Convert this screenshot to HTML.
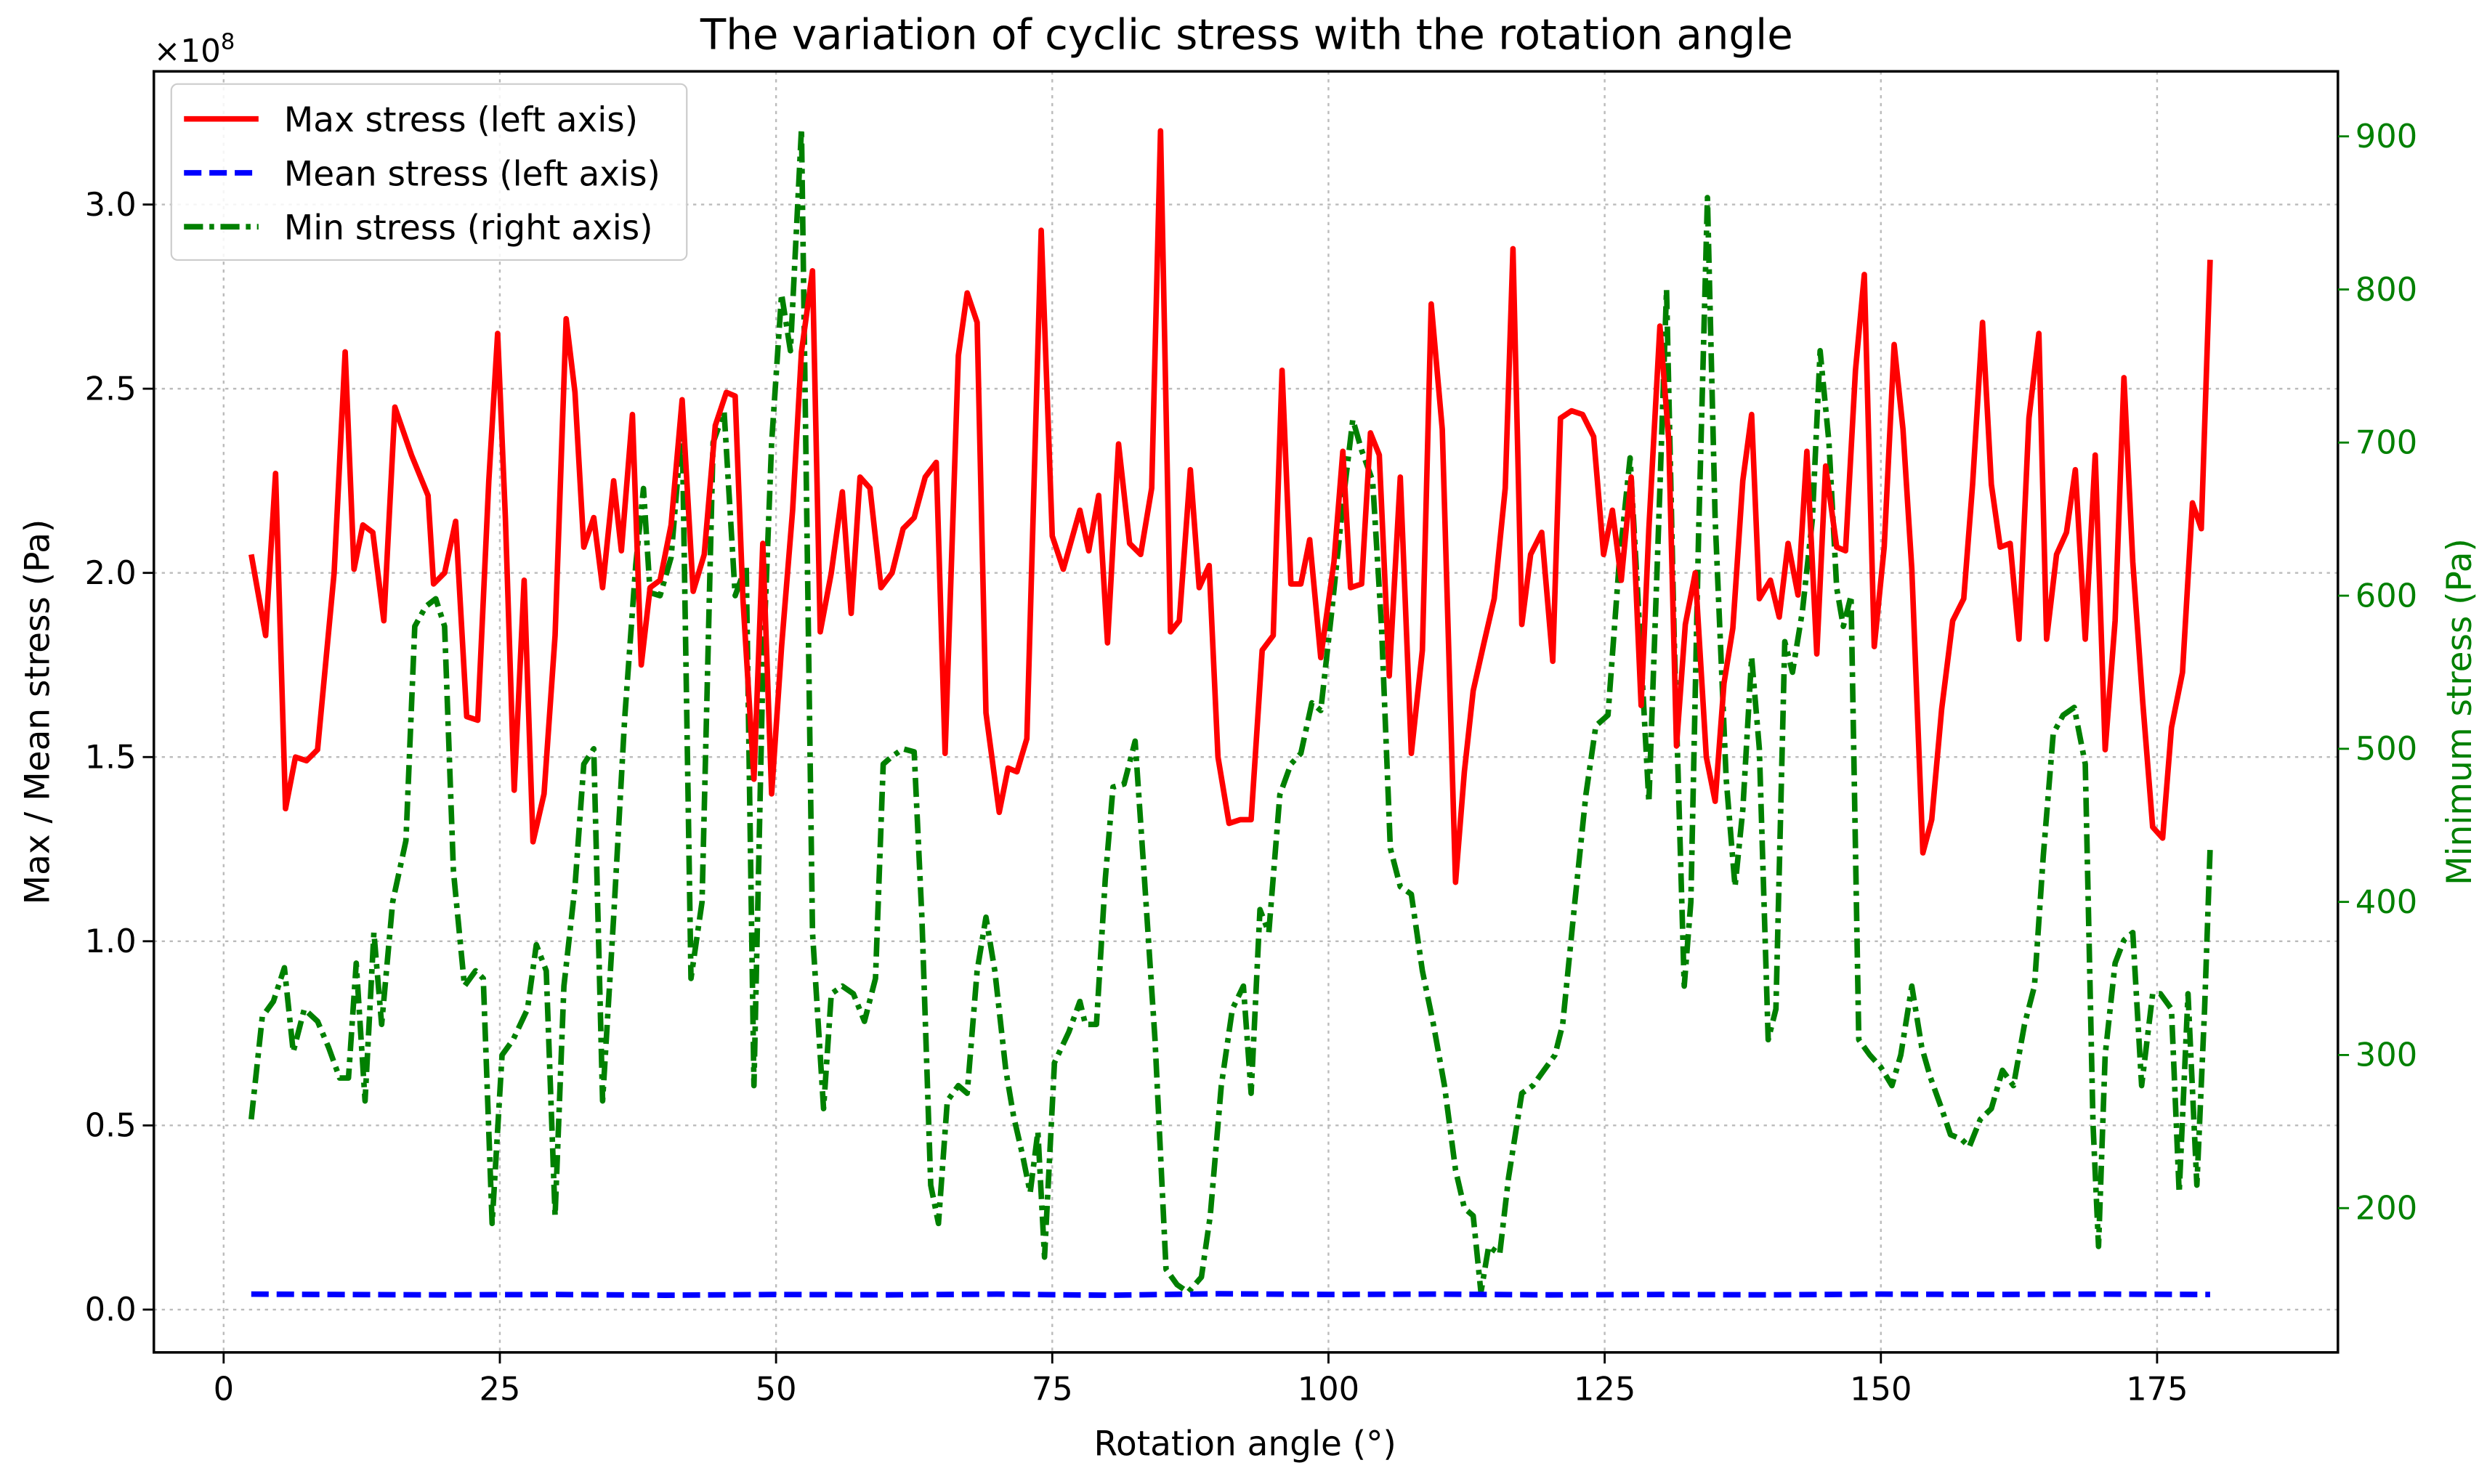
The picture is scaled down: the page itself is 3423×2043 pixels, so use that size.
<!DOCTYPE html>
<html><head><meta charset="utf-8">
<style>
html,body{margin:0;padding:0;background:#fff;}
svg{display:block;font-family:"DejaVu Sans","Liberation Sans",sans-serif;}
</style></head>
<body>
<svg id="chart" width="3423" height="2043" viewBox="0 0 1568 936" preserveAspectRatio="none" xmlns="http://www.w3.org/2000/svg">
<rect x="0" y="0" width="1568" height="936" fill="#fff"/>
<g id="grid"></g>
<g id="series"></g>
<rect x="97" y="45" width="1377" height="808" fill="none" stroke="#000" stroke-width="1.6"/>
<g id="axes"></g>
<text x="786" y="31" font-size="26.5" text-anchor="middle">The variation of cyclic stress with the rotation angle</text>
<text x="97" y="39" font-size="20">×10<tspan font-size="14" dy="-8">8</tspan></text>
<text x="785" y="918" font-size="21.5" text-anchor="middle">Rotation angle (°)</text>
<text x="31" y="449" font-size="21.5" text-anchor="middle" transform="rotate(-90 31 449)">Max / Mean stress (Pa)</text>
<text x="1558" y="449" font-size="21.5" fill="green" text-anchor="middle" transform="rotate(-90 1558 449)">Minimum stress (Pa)</text>
<g>
<rect x="108" y="53" width="325" height="111" rx="4" fill="#fff" fill-opacity="0.85" stroke="#ccc" stroke-width="1"/>
<line x1="116" y1="75" x2="163" y2="75" stroke="red" stroke-width="3.5"/>
<text x="179" y="83" font-size="21.5">Max stress (left axis)</text>
<line x1="116" y1="109" x2="163" y2="109" stroke="blue" stroke-width="3.5" stroke-dasharray="11,5"/>
<text x="179" y="117" font-size="21.5">Mean stress (left axis)</text>
<line x1="116" y1="143" x2="163" y2="143" stroke="green" stroke-width="3.5" stroke-dasharray="12,4,3,4"/>
<text x="179" y="151" font-size="21.5">Min stress (right axis)</text>
</g>
</svg>
<script>
const xTicks=[0,25,50,75,100,125,150,175];
const leftTicks=[0,0.5,1.0,1.5,2.0,2.5,3.0];
const leftTickLabels=["0.0","0.5","1.0","1.5","2.0","2.5","3.0"];
const rightTicks=[200,300,400,500,600,700,800,900];
const maxAngles=[2.5,3.8,4.7,5.6,6.5,7.5,8.5,10,11,11.8,12.6,13.5,14.5,15.5,17,18.5,19,20,21,22,23,24,24.8,25.5,26.3,27.2,28,29,30,31,31.8,32.6,33.5,34.3,35.3,36,37,37.8,38.6,39.5,40.5,41.5,42.5,43.5,44.5,45.5,46.3,47,48,48.8,49.6,50.5,51.5,52.3,53.3,54,55,56,56.8,57.6,58.5,59.5,60.5,61.5,62.5,63.5,64.5,65.3,66.5,67.3,68.2,69,70.2,71,71.8,72.7,74,75,76,77.5,78.3,79.2,80,81,82,83,84,84.8,85.7,86.5,87.5,88.3,89.2,90,91,92,93,94,95,95.8,96.6,97.5,98.3,99.3,100.5,101.3,102,103,103.8,104.6,105.5,106.5,107.5,108.5,109.3,110.3,111.5,112.3,113.1,114,115,116,116.7,117.5,118.3,119.3,120.3,121,122,123,124,124.9,125.7,126.5,127.4,128.3,129,130,130.8,131.5,132.3,133.2,134.2,135,135.8,136.6,137.5,138.3,139,140,140.8,141.6,142.5,143.3,144.2,145,146,146.8,147.7,148.5,149.4,150.3,151.2,152,152.8,153.8,154.6,155.5,156.5,157.5,158.3,159.2,160,160.8,161.7,162.5,163.4,164.3,165,165.9,166.8,167.6,168.5,169.4,170.3,171.2,172,172.8,173.7,174.6,175.5,176.3,177.3,178.2,179,179.8];
const maxValues=[2.05,1.83,2.27,1.36,1.50,1.49,1.52,2.0,2.6,2.01,2.13,2.11,1.87,2.45,2.32,2.21,1.97,2.0,2.14,1.61,1.60,2.25,2.65,2.15,1.41,1.98,1.27,1.40,1.83,2.69,2.49,2.07,2.15,1.96,2.25,2.06,2.43,1.75,1.96,1.98,2.13,2.47,1.95,2.05,2.40,2.49,2.48,1.93,1.44,2.08,1.40,1.80,2.17,2.6,2.82,1.84,2.0,2.22,1.89,2.26,2.23,1.96,2.0,2.12,2.15,2.26,2.3,1.51,2.59,2.76,2.68,1.62,1.35,1.47,1.46,1.55,2.93,2.1,2.01,2.17,2.06,2.21,1.81,2.35,2.08,2.05,2.23,3.2,1.84,1.87,2.28,1.96,2.02,1.5,1.32,1.33,1.33,1.79,1.83,2.55,1.97,1.97,2.09,1.77,2.03,2.33,1.96,1.97,2.38,2.32,1.72,2.26,1.51,1.79,2.73,2.39,1.16,1.46,1.68,1.80,1.93,2.23,2.88,1.86,2.05,2.11,1.76,2.42,2.44,2.43,2.37,2.05,2.17,1.98,2.26,1.64,2.12,2.67,2.36,1.53,1.86,2.0,1.5,1.38,1.7,1.85,2.25,2.43,1.93,1.98,1.88,2.08,1.94,2.33,1.78,2.29,2.07,2.06,2.55,2.81,1.80,2.07,2.62,2.39,2.01,1.24,1.33,1.63,1.87,1.93,2.24,2.68,2.24,2.07,2.08,1.82,2.42,2.65,1.82,2.05,2.11,2.28,1.82,2.32,1.52,1.87,2.53,2.03,1.65,1.31,1.28,1.58,1.73,2.19,2.12,2.85];
const meanAngles=[2.5,10,20,30,40,50,60,70,80,90,100,110,120,130,140,150,160,170,179.8];
const meanValues=[0.042,0.041,0.040,0.041,0.039,0.041,0.040,0.042,0.039,0.043,0.041,0.042,0.040,0.041,0.040,0.042,0.041,0.042,0.041];
const minAngles=[2.5,3.5,4.5,5.5,6.3,7.3,8.5,9.5,10.5,11.3,12,12.8,13.6,14.3,15.3,16.5,17.3,18.3,19.2,20,20.8,21.8,22.8,23.5,24.3,25.2,26.2,27.5,28.3,29.2,30,30.8,31.8,32.6,33.5,34.3,35.3,36.3,37.3,38,38.6,39.5,40.5,41.5,42.3,43.3,44.3,45.3,46.3,47.3,48,48.8,49.6,50.5,51.3,52.3,53.3,54.3,55,56,57,58,59,59.7,60.5,61.5,62.5,63.2,64,64.7,65.5,66.5,67.3,68.2,69,69.8,70.8,71.5,72.3,73,73.7,74.3,75.2,76.5,77.5,78,79,79.8,80.5,81.5,82.5,83.3,84.3,85.3,86.3,87.3,88.5,89.3,90.3,91.3,92.3,93,93.8,94.6,95.6,96.6,97.5,98.5,99.3,100.3,101.3,102.2,103,104,104.8,105.6,106.5,107.5,108.5,109.5,110.5,111.5,112.3,113.1,113.8,114.5,115.5,116.3,117.5,118.5,119.5,120.5,121.2,122.3,123.3,124.2,125.3,126.3,127.3,128,129,130,130.6,131.3,132.2,132.8,133.5,134.3,135,136,136.8,137.5,138.3,139,139.8,140.5,141.3,142,142.9,143.8,144.5,145.3,146,146.6,147.3,148,149,150,151,151.8,152.8,153.7,154.5,155.5,156.3,157.3,158,159,160,161,162,163,163.9,164.7,165.6,166.5,167.5,168.5,169.2,169.7,170.3,171.2,172,172.8,173.6,174.6,175.3,176.3,177,177.8,178.6,179.3,179.8];
const minValues=[258,325,335,357,302,330,322,305,285,285,360,270,380,320,400,440,580,593,598,580,420,345,355,350,190,300,310,330,372,355,195,345,410,490,500,270,390,520,620,670,602,600,625,712,350,400,700,720,600,620,280,550,700,797,760,905,380,265,340,345,340,322,350,490,495,500,498,390,215,190,270,280,275,355,390,355,290,260,235,210,250,168,295,315,335,320,320,415,475,477,505,420,310,160,150,145,155,195,280,330,345,275,395,380,470,490,497,530,525,590,660,715,695,675,580,435,410,405,355,320,280,225,200,195,145,175,170,220,275,280,290,300,320,400,470,515,522,620,690,600,465,670,800,570,345,400,640,860,650,480,410,460,560,500,310,330,570,550,590,650,760,700,605,580,600,310,300,292,280,300,345,305,285,265,248,245,240,258,265,290,280,320,345,430,510,522,527,490,255,175,300,360,375,380,280,340,340,330,210,340,215,330,435];

const NS="http://www.w3.org/2000/svg";
function xS(v){return 141+v*(1360-141)/175;}
function yL(v){return 826-v*(826-129)/3.0;}
function yR(v){return 762-(v-200)*(762-86)/700;}
const grid=document.getElementById('grid'),axes=document.getElementById('axes'),series=document.getElementById('series');
function mk(tag,attrs,parent){const e=document.createElementNS(NS,tag);for(const k in attrs)e.setAttribute(k,attrs[k]);parent.appendChild(e);return e;}
xTicks.forEach(t=>{
  const x=xS(t);
  const g=mk('line',{x1:x,x2:x,y1:45,y2:853,stroke:'#bbb','stroke-width':1.1,'stroke-dasharray':'2,3'},grid);
  
  
  mk('line',{x1:x,x2:x,y1:853,y2:860,stroke:'#000','stroke-width':1.3},axes);
  const tx=mk('text',{x:x,y:883,'font-size':20.5,'text-anchor':'middle'},axes);
  tx.textContent=t;
  
  
});
leftTicks.forEach((t,i)=>{
  const y=yL(t);
  const g=mk('line',{x1:97,x2:1474,y1:y,y2:y,stroke:'#bbb','stroke-width':1.1,'stroke-dasharray':'2,3'},grid);
  
  
  mk('line',{x1:90,x2:97,y1:y,y2:y,stroke:'#000','stroke-width':1.3},axes);
  const tx=mk('text',{x:86,y:y+7,'font-size':20.5,'text-anchor':'end'},axes);
  tx.textContent=leftTickLabels[i];
  
  
});
rightTicks.forEach(t=>{
  const y=yR(t);
  mk('line',{x1:1474,x2:1481,y1:y,y2:y,stroke:'green','stroke-width':1.3},axes);
  const tx=mk('text',{x:1485,y:y+7,'font-size':20.5,fill:'green'},axes);
  tx.textContent=t;
  
  
});
function line(xs,ys,fy,attrs,name){
  const d=xs.map((a,i)=>(i?'L':'M')+xS(a).toFixed(2)+','+fy(ys[i]).toFixed(2)).join('');
  const p=mk('path',Object.assign({d:d,fill:'none','stroke-linejoin':'round'},attrs),series);
  
  
}
line(minAngles,minValues,yR,{stroke:'green','stroke-width':3.5,'stroke-dasharray':'12,4,3,4'},'min-stress-line');
line(maxAngles,maxValues,yL,{stroke:'red','stroke-width':3.5},'max-stress-line');
line(meanAngles,meanValues,yL,{stroke:'blue','stroke-width':3.5,'stroke-dasharray':'11,5'},'mean-stress-line');
</script>
</body></html>
